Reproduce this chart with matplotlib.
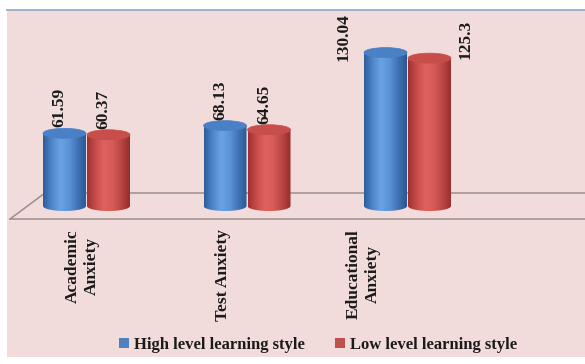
import numpy as np
import matplotlib
matplotlib.use('Agg')
import matplotlib.pyplot as plt
from matplotlib.patches import Rectangle, Ellipse, Polygon, Patch
from matplotlib.colors import LinearSegmentedColormap
from matplotlib.lines import Line2D

categories = ['Academic\nAnxiety', 'Test Anxiety', 'Educational\nAnxiety']
high_level = [61.59, 68.13, 130.04]
low_level = [60.37, 64.65, 125.3]
series_names = ['High level learning style', 'Low level learning style']

W, H = 585, 364
fig = plt.figure(figsize=(W / 100, H / 100), dpi=100)
fig.patch.set_facecolor('white')

# pink chart area + thin top border
fig.patches.append(Rectangle((7 / W, 7 / H), 1 - 7 / W, 1 - 17 / H,
                             transform=fig.transFigure, facecolor='#f2dcdb',
                             edgecolor='none', zorder=-1))
fig.lines.append(Line2D([7 / W, 1], [1 - 9.5 / H, 1 - 9.5 / H],
                        transform=fig.transFigure, color='#98abcf', lw=1.3))

ax = fig.add_axes([0, 0, 1, 1])
ax.set_axis_off()
ax.patch.set_alpha(0)

# pixel scale: category 0 at x=86.5px, 160.5px per category; base at y=206px, 1.18px per unit
xs, ys = 160.5, 1.18
xlim = (-86.5 / xs, (W - 86.5) / xs)
ylim = (-(H - 206) / ys, 206 / ys)

bar_w = 43 / xs
ell_h = 10 / ys
offset = 22 / xs

# floor
fl_back, fl_front = 13 / ys, -13 / ys
x_back, x_front = (45 - 86.5) / xs, (10 - 86.5) / xs
ax.plot([x_front, x_back, xlim[1]], [fl_front, fl_back, fl_back], color='#9a8e8e', lw=1.1, zorder=1)
ax.plot([x_front, xlim[1]], [fl_front, fl_front], color='#9a8e8e', lw=1.1, zorder=1)

blue_cmap = LinearSegmentedColormap.from_list(
    'blue_cyl', ['#2d5e9c', '#4f87cc', '#6aa2e4', '#5b92d6', '#3f72b4', '#2a5792'])
red_cmap = LinearSegmentedColormap.from_list(
    'red_cyl', ['#9e3331', '#c94d4a', '#e0625f', '#d65a57', '#bb4643', '#932e2c'])
grad = np.linspace(0, 1, 64).reshape(1, -1)


def cylinder(xc, v, cmap, top_color):
    x0, x1 = xc - bar_w / 2, xc + bar_w / 2
    t = np.linspace(np.pi, 2 * np.pi, 40)
    bottom = np.column_stack([xc + bar_w / 2 * np.cos(t), ell_h / 2 * np.sin(t)])
    pts = np.vstack([[x0, v], bottom, [x1, v]])
    body = Polygon(pts, closed=True, facecolor='none', edgecolor='none')
    ax.add_patch(body)
    im = ax.imshow(grad, cmap=cmap, extent=(x0, x1, -ell_h / 2, v),
                   aspect='auto', zorder=3, interpolation='bilinear')
    im.set_clip_path(body)
    ax.add_patch(Ellipse((xc, v), bar_w, ell_h, facecolor=top_color,
                         edgecolor=top_color, lw=0.5, zorder=4))


lbl_font = dict(family='Liberation Serif', weight='bold', size=12.5, color='#1a1a1a')

for i in range(len(categories)):
    cylinder(i - offset, high_level[i], blue_cmap, '#4a80c6')
    cylinder(i + offset, low_level[i], red_cmap, '#c84e4b')

# imshow resets the limits
ax.set_xlim(*xlim)
ax.set_ylim(*ylim)

# value labels
for i in range(len(categories)):
    for v, xc, big_off in [(high_level[i], i - offset, (-42, 10)),
                           (low_level[i], i + offset, (36, 14))]:
        if v > 100:
            ax.annotate(f'{v:g}', (xc, v + ell_h / 2), xytext=big_off,
                        textcoords='offset pixels', rotation=90,
                        ha='center', va='center', **lbl_font, zorder=5)
        else:
            ax.annotate(f'{v:g}', (xc, v + ell_h / 2), xytext=(-5, 1),
                        textcoords='offset pixels', rotation=90,
                        ha='center', va='bottom', **lbl_font, zorder=5)

# category labels
for i, cat in enumerate(categories):
    ax.text((82.5 - 86.5 + 140.5 * i) / xs, -23 / ys, cat, rotation=90,
            ha='center', va='top', multialignment='center',
            linespacing=1.25, **lbl_font)

handles = [Patch(facecolor='#4f81bd', edgecolor='none'),
           Patch(facecolor='#c0504d', edgecolor='none')]
fig.legend(handles, series_names, loc='center', ncol=2,
           bbox_to_anchor=(318 / W, 1 - 345 / H), frameon=False,
           prop=dict(family='Liberation Serif', weight='bold', size=12),
           handlelength=0.6, handleheight=0.6, handletextpad=0.3,
           columnspacing=1.8, labelcolor='#1a1a1a')

fig.savefig('out.png', dpi=100, facecolor='white')
